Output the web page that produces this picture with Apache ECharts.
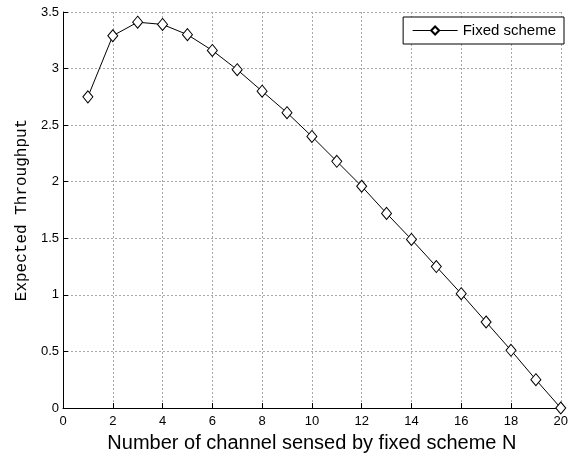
<!DOCTYPE html>
<html>
<head>
<meta charset="utf-8">
<script src="https://cdn.jsdelivr.net/npm/echarts@6/dist/echarts.min.js"></script>
<style>html,body{margin:0;padding:0;background:#fff;}#c{width:571px;height:459px;}</style>
</head>
<body>
<div id="c"></div>
<script>
const xValues = [1,2,3,4,5,6,7,8,9,10,11,12,13,14,15,16,17,18,19,20];
const throughput = [2.75,3.29,3.41,3.39,3.30,3.16,2.99,2.80,2.61,2.40,2.18,1.96,1.72,1.49,1.25,1.01,0.76,0.51,0.25,0.0];
const seriesName = 'Fixed scheme';
const xAxisName = 'Number of channel sensed by fixed scheme N';
const yAxisName = 'Expected Throughput';

const chart = echarts.init(document.getElementById('c'), null, {renderer: 'canvas'});
const gridLine = {show: true, lineStyle: {color: '#a8a8a8', type: [2, 2], width: 1}};
chart.setOption({
  animation: false,
  backgroundColor: '#fff',
  grid: {left: 63, right: 6, top: 12, bottom: 51, containLabel: false},
  legend: {
    show: true,
    right: 7, top: 17,
    orient: 'vertical',
    backgroundColor: '#fff',
    borderColor: '#000', borderWidth: 1, borderRadius: 0,
    padding: [6, 8, 6, 9],
    itemWidth: 45, itemHeight: 10, itemGap: 4,
    lineStyle: {width: 1},
    textStyle: {fontFamily: 'Liberation Sans, Arial', fontSize: 15, color: '#000'},
    data: [{name: seriesName}]
  },
  xAxis: {
    type: 'value', min: 0, max: 20, interval: 2,
    name: xAxisName, nameLocation: 'middle', nameGap: 25,
    nameTextStyle: {fontFamily: 'Liberation Sans, Arial', fontSize: 20, color: '#000'},
    axisLine: {show: true, onZero: false, lineStyle: {color: '#000', width: 1}},
    axisTick: {show: true, inside: true, length: 5, lineStyle: {color: '#000'}},
    axisLabel: {fontFamily: 'Liberation Sans, Arial', fontSize: 13, color: '#000', margin: 7},
    splitLine: gridLine
  },
  yAxis: {
    type: 'value', min: 0, max: 3.5, interval: 0.5,
    name: yAxisName, nameLocation: 'middle', nameGap: 29,
    nameTextStyle: {fontFamily: 'Liberation Mono, Courier New', fontSize: 16, color: '#000'},
    axisLine: {show: true, lineStyle: {color: '#000', width: 1}},
    axisTick: {show: true, inside: true, length: 5, lineStyle: {color: '#000'}},
    axisLabel: {fontFamily: 'Liberation Sans, Arial', fontSize: 13, color: '#000', margin: 4},
    splitLine: gridLine
  },
  series: [{
    name: seriesName,
    type: 'line',
    data: xValues.map((x, i) => [x, throughput[i]]),
    symbol: 'diamond', symbolSize: [10, 12],
    showAllSymbol: true,
    lineStyle: {color: '#000', width: 1},
    itemStyle: {color: '#fff', borderColor: '#000', borderWidth: 1},
    clip: false
  }]
});
</script>
</body>
</html>
